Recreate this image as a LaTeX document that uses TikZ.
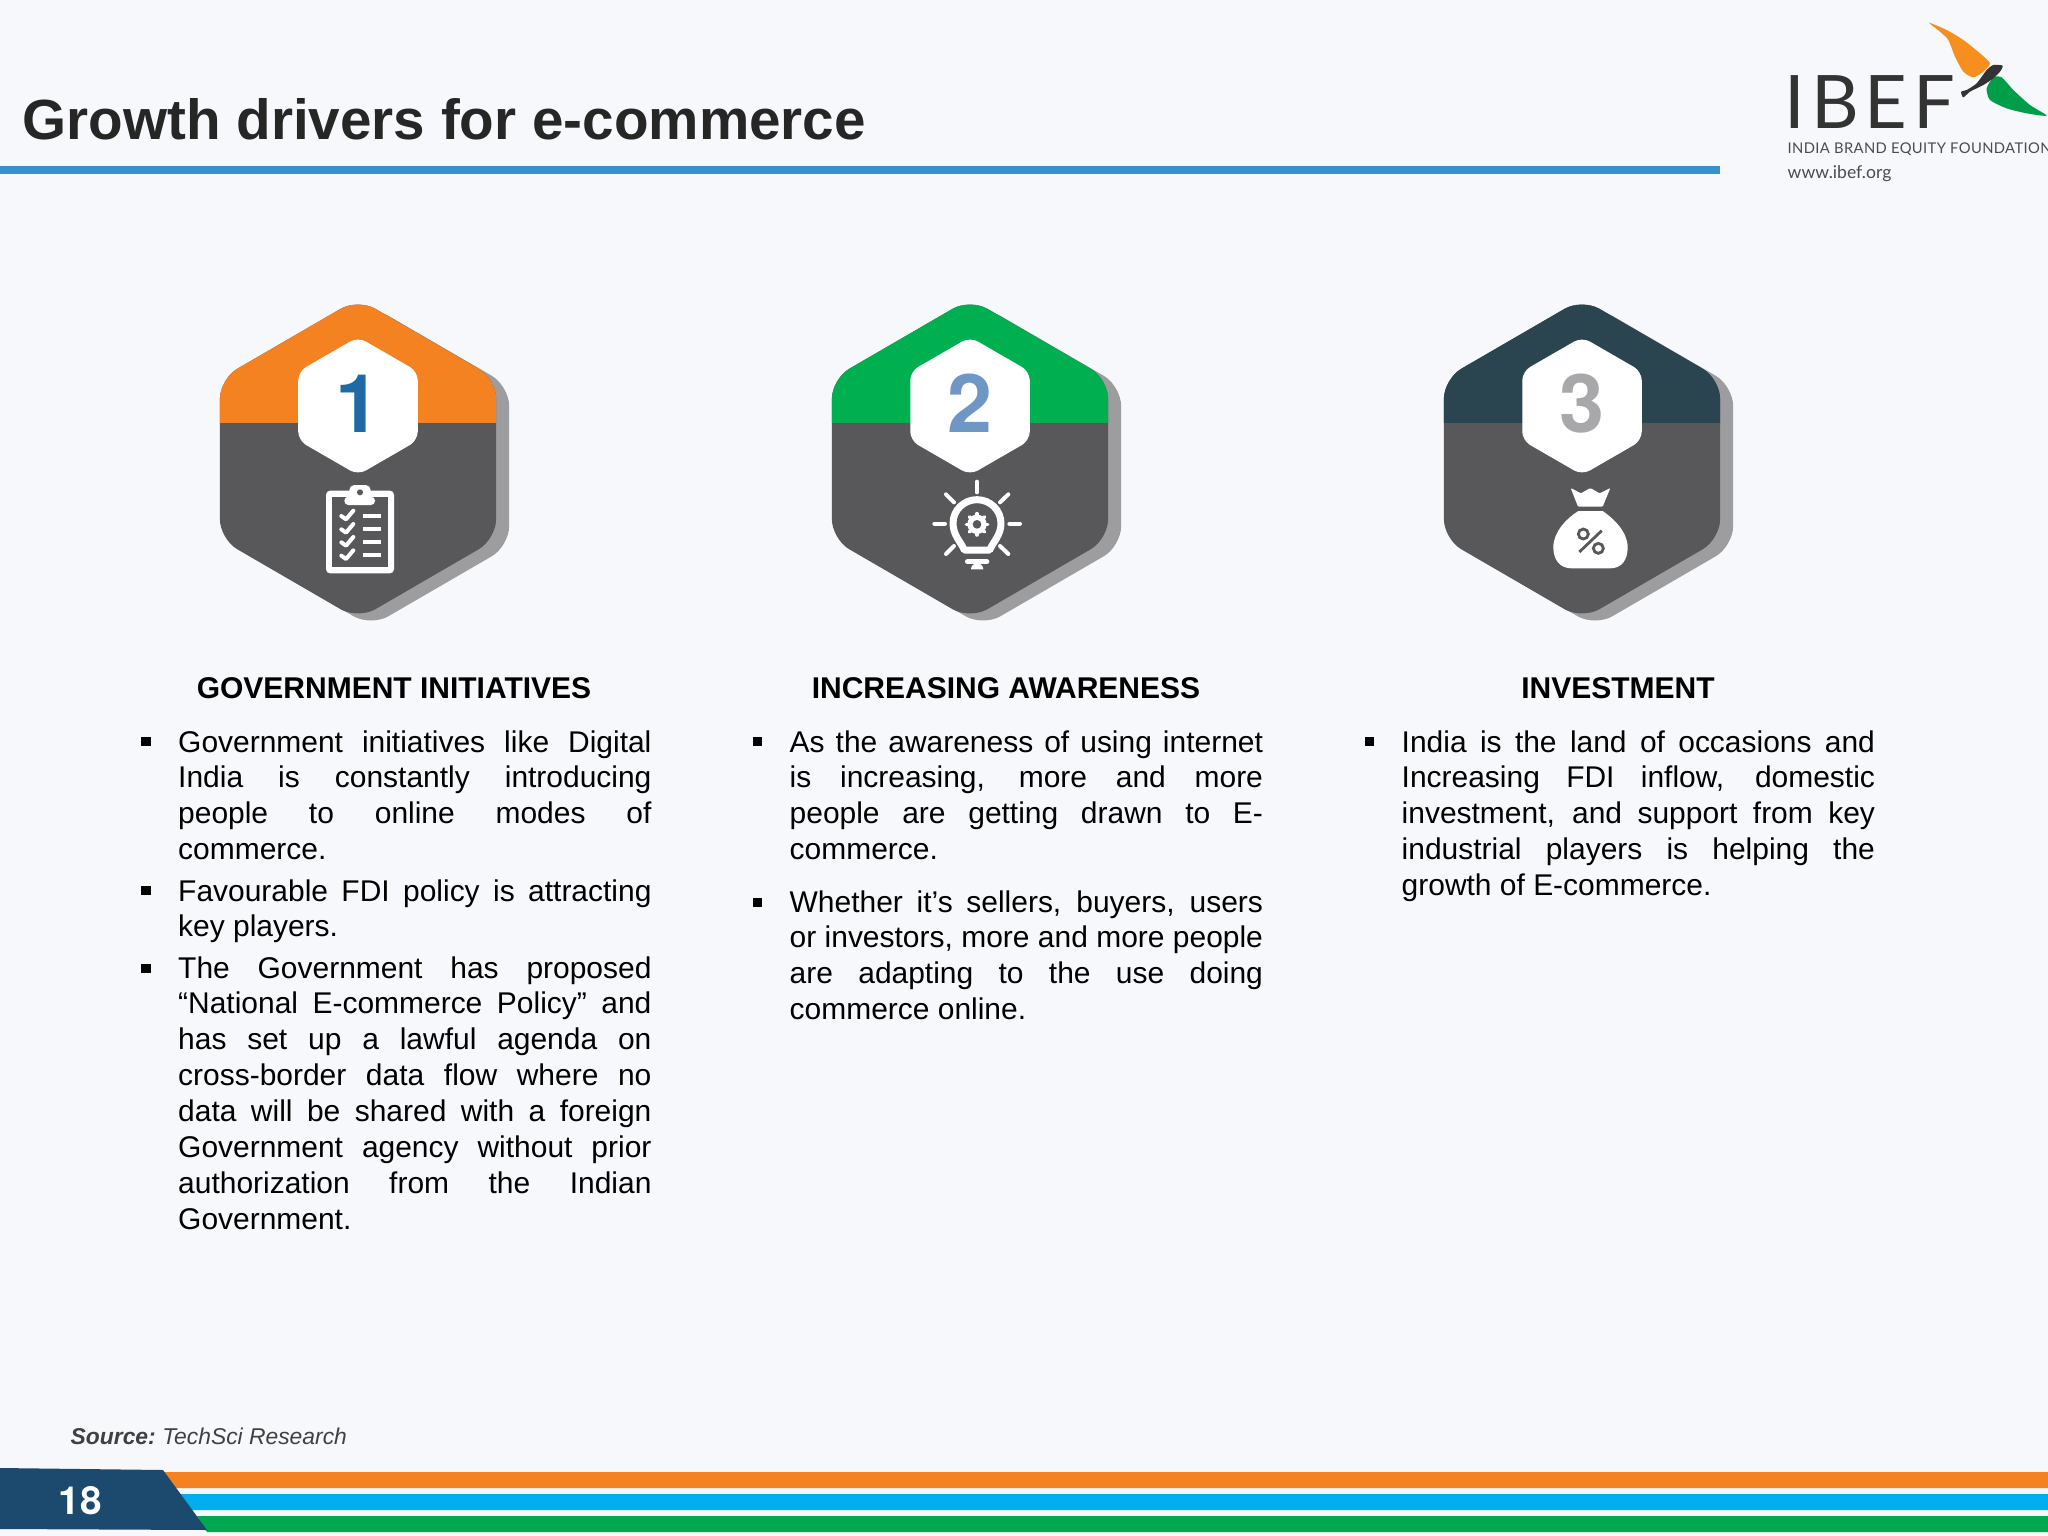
\documentclass[tikz,border=0pt]{standalone}
\usepackage{fontspec}
\setmainfont{Liberation Sans}
\newfontfamily\herosfont{TeX Gyre Heros}
\newfontfamily\logofont{Lato}
\newfontfamily\logowide[LetterSpace=8]{Lato}
\newfontfamily\logosmall[LetterSpace=2.5]{Lato}
\usepackage{tikz}
\usetikzlibrary{calc}
\tolerance=10000
\hbadness=10000
\definecolor{pagebg}{HTML}{F6F8FB}
\definecolor{hexdark}{HTML}{58585A}
\definecolor{hexshadow}{HTML}{9D9DA0}
\definecolor{ibeforange}{HTML}{F58220}
\definecolor{ibefgreen}{HTML}{00B050}
\definecolor{ibefteal}{HTML}{2A4550}
\definecolor{ruleblue}{HTML}{3A8FD0}
\definecolor{footnavy}{HTML}{1C4A6E}
\definecolor{footblue}{HTML}{00AEEF}
\definecolor{footgreen}{HTML}{00A94F}
\definecolor{numblue}{HTML}{1F6AA5}
\definecolor{numsteel}{HTML}{6E97C6}
\definecolor{numgrey}{HTML}{A8A8AA}
\newcommand{\hexpath}[1]{(90:#1)--(30:#1)--(-30:#1)--(-90:#1)--(-150:#1)--(150:#1)--cycle}
\tikzset{
	bodytext/.style={anchor=base west, inner sep=0pt, text width=4.73cm, align=justify, font=\fontsize{8.52pt}{10.2pt}\selectfont},
	headtext/.style={anchor=base, inner sep=0pt, font=\fontsize{8.53pt}{10.2pt}\selectfont\bfseries},
	hexnum/.style={anchor=base, inner sep=0pt, font=\fontsize{23pt}{23pt}\herosfont\bfseries},
	hexbody/.style={rounded corners=0.2cm, yscale=1.005},
	bulletmark/.style={rectangle, fill=black, inner sep=0pt, minimum size=0.09cm},
	iconline/.style={draw=white, line cap=round, line join=round}
}
\begin{document}
\begin{tikzpicture}[x=0.01cm, y=-0.01cm]
	\useasboundingbox(0, 0)rectangle(2048, 1536);
	\fill[pagebg](0, 0)rectangle(2048, 1536);

	% title
	\node[anchor=base west, inner sep=0pt, font=\fontsize{16.1pt}{18pt}\selectfont\bfseries, text=black!85](titletext)at(22, 139){Growth drivers for e-commerce};
	\fill[ruleblue](0, 166)rectangle(1720, 174);

	% logo
	\node[anchor=base west, inner sep=0pt, font=\fontsize{21pt}{21pt}\logowide, text=black!80](logoname)at(1784, 128){IBEF};
	\node[anchor=base west, inner sep=0pt, font=\fontsize{4.2pt}{5pt}\logosmall, text=black!70](logofull)at(1787, 153){INDIA BRAND EQUITY FOUNDATION};
	\node[anchor=base west, inner sep=0pt, font=\fontsize{5pt}{6pt}\logofont, text=black!70](logoweb)at(1787, 178){www.ibef.org};
	\begin{scope}[shift={(1750, 0)}, scale=1/3]
		\fill[ibeforange!90!yellow]plot[smooth cycle, tension=0.4]coordinates{(537, 68)(590, 90)(640, 120)(690, 160)(720, 190)(700, 215)(670, 232)(640, 215)(615, 170)(595, 120)(570, 95)};
		\fill[ibefgreen!90!black]plot[smooth cycle, tension=0.4]coordinates{(755, 232)(730, 232)(710, 265)(720, 300)(770, 325)(830, 340)(890, 347)(840, 315)(790, 270)};
		\fill[black!80]plot[smooth cycle, tension=0.4]coordinates{(758, 197)(730, 195)(710, 210)(680, 250)(650, 270)(633, 275)(640, 292)(660, 275)(700, 255)(730, 235)(750, 215)};
	\end{scope}

	% first hexagon
	\begin{scope}[shift={(358, 459)}]
		\fill[hexshadow, hexbody, shift={(13, 7)}]\hexpath{159.5};
		\fill[hexdark, hexbody]\hexpath{159.5};
		\begin{scope}
			\clip[hexbody]\hexpath{159.5};
			\fill[ibeforange](-140, -170)rectangle(140, -36);
		\end{scope}
		\fill[white, rounded corners=0.09cm, shift={(0, -53)}]\hexpath{69};
		\node[hexnum, text=numblue](numone)at(0, -27){1};
	\end{scope}
	\begin{scope}[shift={(180, 280)}, scale=1/3]
		\fill[white, rounded corners=0.04cm](438, 632)rectangle(642, 880);
		\fill[hexdark](457, 652)rectangle(623, 860);
		\fill[white, rounded corners=0.04cm](493, 650)rectangle(585, 675);
		\fill[white, rounded corners=0.05cm](508, 615)rectangle(572, 665);
		\fill[hexdark](540, 637)circle(9);
		\draw[iconline, line width=0.04cm](484, 708)--(498, 718)--(520, 692);
		\draw[iconline, line width=0.04cm](484, 748)--(498, 758)--(520, 732);
		\draw[iconline, line width=0.04cm](484, 787)--(498, 797)--(520, 771);
		\draw[iconline, line width=0.04cm](484, 827)--(498, 837)--(520, 811);
		\fill[white](548, 701)rectangle(602, 713);
		\fill[white](548, 741)rectangle(602, 753);
		\fill[white](548, 780)rectangle(602, 792);
		\fill[white](548, 820)rectangle(602, 832);
	\end{scope}

	% second hexagon
	\begin{scope}[shift={(970, 459)}]
		\fill[hexshadow, hexbody, shift={(13, 7)}]\hexpath{159.5};
		\fill[hexdark, hexbody]\hexpath{159.5};
		\begin{scope}
			\clip[hexbody]\hexpath{159.5};
			\fill[ibefgreen](-140, -170)rectangle(140, -36);
		\end{scope}
		\fill[white, rounded corners=0.09cm, shift={(0, -53)}]\hexpath{69};
		\node[hexnum, text=numsteel](numtwo)at(0, -27){2};
	\end{scope}
	\begin{scope}[shift={(900, 460)}, scale=1/3]
		\draw[iconline, line width=0.07cm](193, 270).. controls (182, 245) and (159, 225) ..(159, 190).. controls (159, 150) and (192, 119) ..(231, 119).. controls (270, 119) and (303, 150) ..(303, 190).. controls (303, 225) and (280, 245) ..(269, 270)--cycle;
		\draw[iconline, line width=0.04cm](231, 65)--(231, 97);
		\draw[iconline, line width=0.04cm](138, 103)--(162, 127);
		\draw[iconline, line width=0.04cm](325, 103)--(300, 127);
		\draw[iconline, line width=0.04cm](103, 191)--(135, 191);
		\draw[iconline, line width=0.04cm](328, 191)--(360, 191);
		\draw[iconline, line width=0.04cm](138, 282)--(162, 258);
		\draw[iconline, line width=0.04cm](325, 282)--(300, 258);
		\draw[iconline, line width=0.055cm](203, 305)--(260, 305);
		\fill[white](213, 328)--(250, 328)arc[radius=18.5, start angle=0, end angle=-180]--cycle;
		\fill[white](231, 193)circle(29);
		\foreach \ang in {0, 45, ..., 315}
			\draw[iconline, line width=0.035cm]($(231, 193)+(\ang:26)$)--($(231, 193)+(\ang:32)$);
		\fill[hexdark](231, 193)circle(13);
	\end{scope}

	% third hexagon
	\begin{scope}[shift={(1582, 459)}]
		\fill[hexshadow, hexbody, shift={(13, 7)}]\hexpath{159.5};
		\fill[hexdark, hexbody]\hexpath{159.5};
		\begin{scope}
			\clip[hexbody]\hexpath{159.5};
			\fill[ibefteal](-140, -170)rectangle(140, -36);
		\end{scope}
		\fill[white, rounded corners=0.09cm, shift={(0, -53)}]\hexpath{69};
		\node[hexnum, text=numgrey](numthree)at(0, -27){3};
	\end{scope}
	\begin{scope}[shift={(1500, 460)}, scale=1/3]
		\fill[white](235, 153).. controls (200, 175) and (160, 215) ..(160, 262).. controls (160, 300) and (180, 325) ..(215, 325)--(330, 325).. controls (365, 325) and (383, 300) ..(383, 262).. controls (383, 215) and (340, 175) ..(308, 153)--cycle;
		\fill[white, rounded corners=0.01cm](212, 84)--(243, 100)--(271, 84)--(299, 100)--(331, 84)--(308, 140)--(234, 140)--cycle;
		\draw[hexdark, line width=0.028cm](250, 222)circle(15);
		\draw[hexdark, line width=0.028cm](295, 265)circle(15);
		\draw[hexdark, line width=0.028cm](238, 276)--(305, 212);
	\end{scope}

	% column headings
	\node[headtext](headone)at(394, 698){GOVERNMENT INITIATIVES};
	\node[headtext](headtwo)at(1006, 698){INCREASING AWARENESS};
	\node[headtext](headthree)at(1618, 698){INVESTMENT};

	% first column
	\node[bulletmark](markone)at(146, 741){};
	\node[bodytext](textone)at(177.5, 752){Government initiatives like Digital\linebreak India is constantly introducing\linebreak people to online modes of\linebreak commerce.};
	\node[bulletmark](marktwo)at(146, 890){};
	\node[bodytext](texttwo)at(177.5, 901){Favourable FDI policy is attracting\linebreak key players.};
	\node[bulletmark](markthree)at(146, 968){};
	\node[bodytext](textthree)at(177.5, 978){The Government has proposed\linebreak “National E-commerce Policy” and\linebreak has set up a lawful agenda on\linebreak cross-border data flow where no\linebreak data will be shared with a foreign\linebreak Government agency without prior\linebreak authorization from the Indian\linebreak Government.};

	% second column
	\node[bulletmark](markfour)at(757, 741){};
	\node[bodytext](textfour)at(789, 752){As the awareness of using internet\linebreak is increasing, more and more\linebreak people are getting drawn to E-\linebreak commerce.};
	\node[bulletmark](markfive)at(757, 902){};
	\node[bodytext](textfive)at(789, 912){Whether it’s sellers, buyers, users\linebreak or investors, more and more people\linebreak are adapting to the use doing\linebreak commerce online.};

	% third column
	\node[bulletmark](marksix)at(1369, 741){};
	\node[bodytext](textsix)at(1401, 752){India is the land of occasions and\linebreak Increasing FDI inflow, domestic\linebreak investment, and support from key\linebreak industrial players is helping the\linebreak growth of E-commerce.};

	% footer
	\node[anchor=base west, inner sep=0pt, font=\fontsize{6.5pt}{8pt}\selectfont\itshape, text=black!75](sourcetext)at(70, 1444){\textbf{Source:}\kern-0.02cm{} TechSci Research};
	\fill[ibeforange](163, 1472)--(2048, 1472)--(2048, 1488)--(175, 1488)--cycle;
	\fill[footblue](180, 1494)--(2048, 1494)--(2048, 1510)--(192, 1510)--cycle;
	\fill[footgreen](197, 1516)--(2048, 1516)--(2048, 1532)--(207, 1532)--cycle;
	\fill[footnavy](0, 1468)--(163, 1470)--(207, 1530)--(0, 1529)--cycle;
	\node[anchor=base, inner sep=0pt, font=\fontsize{11pt}{13pt}\herosfont\bfseries, text=white](pagenum)at(80, 1514){18};
\end{tikzpicture}
\end{document}
